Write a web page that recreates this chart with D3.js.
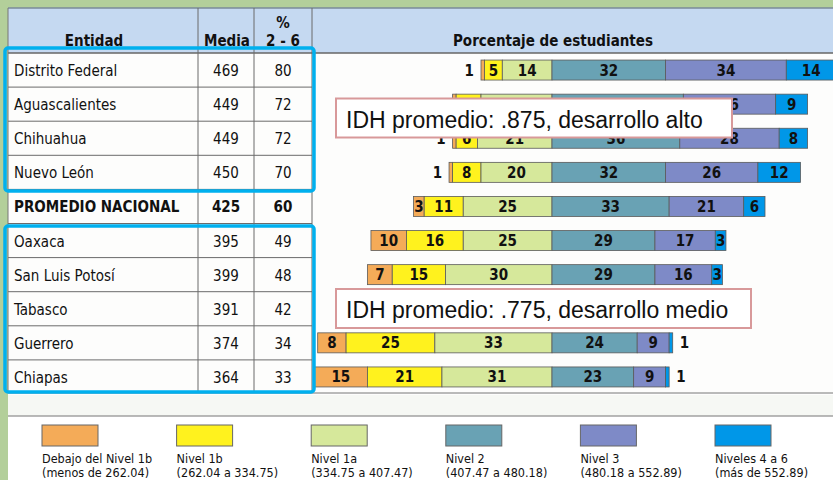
<!DOCTYPE html>
<html>
<head>
<meta charset="utf-8">
<script src="https://cdn.jsdelivr.net/npm/d3@7"></script>
<style>
  body { margin: 0; padding: 0; background: #b5cf9c; }
  svg { display: block; }
  text { font-family: "DejaVu Sans Condensed", "DejaVu Sans", Verdana, sans-serif; }
</style>
</head>
<body>
<svg id="chart" width="833" height="480"></svg>
<script>
// data
var entidades = ["Distrito Federal", "Aguascalientes", "Chihuahua", "Nuevo León", "PROMEDIO NACIONAL",
                 "Oaxaca", "San Luis Potosí", "Tabasco", "Guerrero", "Chiapas"];
var medias = [469, 449, 449, 450, 425, 395, 399, 391, 374, 364];
var pct26 = [80, 72, 72, 70, 60, 49, 48, 42, 34, 33];

var debajo1b = [1, 1, 1, 1, 3, 10, 7, 11, 8, 15];
var nivel1b  = [5, 7, 6, 8, 11, 16, 15, 19, 25, 21];
var nivel1a  = [14, 20, 21, 20, 25, 25, 30, 28, 33, 31];
var nivel2   = [32, 37, 36, 32, 33, 29, 29, 27, 24, 23];
var nivel3   = [34, 26, 28, 26, 21, 17, 16, 12, 9, 9];
var nivel46  = [14, 9, 8, 12, 6, 3, 3, 3, 1, 1];

var niveles = ["Debajo del Nivel 1b", "Nivel 1b", "Nivel 1a", "Nivel 2", "Nivel 3", "Niveles 4 a 6"];
var rangos = ["(menos de 262.04)", "(262.04 a 334.75)", "(334.75 a 407.47)",
              "(407.47 a 480.18)", "(480.18 a 552.89)", "(más de 552.89)"];
var colores = ["#f4ab58", "#fff21e", "#d6e89b", "#69a2b4", "#7e8ac7", "#0097e8"];

var series = [debajo1b, nivel1b, nivel1a, nivel2, nivel3, nivel46];

var svg = d3.select("#chart");

// background panels
svg.append("rect").attr("x", 0).attr("y", 0).attr("width", 833).attr("height", 480).attr("fill", "#b3cf9a");
svg.append("rect").attr("x", 8).attr("y", 8).attr("width", 825).attr("height", 472).attr("fill", "#fdfdfc");
svg.append("rect").attr("x", 8).attr("y", 8).attr("width", 825).attr("height", 45)
    .attr("fill", "#c5d9f1");
svg.append("line").attr("x1", 8).attr("x2", 833).attr("y1", 8).attr("y2", 8).attr("stroke", "#7a8a99").attr("stroke-width", 1.5);
svg.append("line").attr("x1", 8).attr("x2", 833).attr("y1", 53).attr("y2", 53).attr("stroke", "#666").attr("stroke-width", 1.5);
svg.append("rect").attr("x", 8).attr("y", 395).attr("width", 825).attr("height", 21).attr("fill", "#f6f8f4");
svg.append("line").attr("x1", 8).attr("x2", 833).attr("y1", 416).attr("y2", 416).attr("stroke", "#777").attr("stroke-width", 1);
svg.append("rect").attr("x", 8).attr("y", 417).attr("width", 825).attr("height", 63).attr("fill", "#ffffff");

// scales
var row = d3.scaleBand().domain(entidades).range([53, 394]).padding(0);
var x = d3.scaleLinear().domain([-70, 80]).range([303.5, 836]);
var barH = 20;

// table grid
var cols = [198, 254, 312];
svg.selectAll(".vline").data(cols).enter().append("line")
    .attr("x1", function (d) { return d; }).attr("x2", function (d) { return d; })
    .attr("y1", 8).attr("y2", 393)
    .attr("stroke", "#6b6b6b").attr("stroke-width", 1);
svg.selectAll(".hline").data(entidades.slice(1)).enter().append("line")
    .attr("x1", 8).attr("x2", 312)
    .attr("y1", function (d) { return row(d); }).attr("y2", function (d) { return row(d); })
    .attr("stroke", "#6b6b6b").attr("stroke-width", 1);
svg.append("line").attr("x1", 8).attr("x2", 833).attr("y1", 393).attr("y2", 393).attr("stroke", "#777").attr("stroke-width", 1);
svg.append("line").attr("x1", 8).attr("x2", 8).attr("y1", 8).attr("y2", 393).attr("stroke", "#777").attr("stroke-width", 1);

// header
var head = svg.append("g").attr("font-weight", "bold").attr("font-size", 15).attr("fill", "#111");
head.append("text").attr("x", 94).attr("y", 46).attr("text-anchor", "middle").text("Entidad");
head.append("text").attr("x", 227).attr("y", 46).attr("text-anchor", "middle").text("Media");
head.append("text").attr("x", 283).attr("y", 28).attr("text-anchor", "middle").text("%");
head.append("text").attr("x", 283).attr("y", 46).attr("text-anchor", "middle").text("2 - 6");
head.append("text").attr("x", 553).attr("y", 46).attr("text-anchor", "middle").text("Porcentaje de estudiantes");

// table rows
var rows = svg.selectAll(".fila").data(entidades).enter().append("g")
    .attr("transform", function (d) { return "translate(0," + (row(d) + row.bandwidth() / 2 + 6) + ")"; })
    .attr("font-size", 15).attr("fill", "#111")
    .attr("font-weight", function (d) { return d === "PROMEDIO NACIONAL" ? "bold" : "normal"; });
rows.append("text").attr("x", 14).text(function (d) { return d; });
rows.append("text").attr("x", 226).attr("text-anchor", "middle").text(function (d, i) { return medias[i]; });
rows.append("text").attr("x", 283).attr("text-anchor", "middle").text(function (d, i) { return pct26[i]; });

// stacked bars, aligned on the 1a / 2 boundary
entidades.forEach(function (name, i) {
    var start = -(debajo1b[i] + nivel1b[i] + nivel1a[i]);
    var y0 = row(name) + (row.bandwidth() - barH) / 2;
    var g = svg.append("g").attr("class", "barra");
    var acc = start;
    series.forEach(function (s, k) {
        var v = s[i];
        var a = acc, b = acc + v;
        acc = b;
        g.append("rect")
            .attr("x", x(a)).attr("y", y0)
            .attr("width", x(b) - x(a)).attr("height", barH)
            .attr("fill", colores[k])
            .attr("stroke", "#5a5a5a").attr("stroke-width", 0.8);
        var lbl = g.append("text")
            .attr("y", y0 + barH / 2 + 5.5)
            .attr("font-size", 15).attr("font-weight", "bold").attr("fill", "#111")
            .text(v);
        if (v <= 1) {
            if (k === 0) lbl.attr("x", x(a) - 7).attr("text-anchor", "end");
            else lbl.attr("x", x(b) + 7).attr("text-anchor", "start");
        } else {
            lbl.attr("x", (x(a) + x(b)) / 2).attr("text-anchor", "middle");
        }
    });
});

// blue highlight boxes
svg.append("rect").attr("x", 5).attr("y", 48).attr("width", 309).attr("height", 143).attr("rx", 3)
    .attr("fill", "none").attr("stroke", "#00b0ee").attr("stroke-width", 3.5);
svg.append("rect").attr("x", 5).attr("y", 226).attr("width", 309).attr("height", 166).attr("rx", 3)
    .attr("fill", "none").attr("stroke", "#00b0ee").attr("stroke-width", 3.5);

// IDH callouts
var notas = [
    { x: 336, y: 98.5, w: 396, texto: "IDH promedio: .875, desarrollo alto" },
    { x: 336, y: 289, w: 415, texto: "IDH promedio: .775, desarrollo medio" }
];
notas.forEach(function (n) {
    svg.append("rect").attr("x", n.x).attr("y", n.y).attr("width", n.w).attr("height", 39)
        .attr("fill", "#ffffff").attr("stroke", "#d8999a").attr("stroke-width", 2);
    svg.append("text").attr("x", n.x + 10).attr("y", n.y + 29)
        .style("font-family", "'Liberation Sans', Arial, sans-serif")
        .attr("font-size", 23).attr("fill", "#111").text(n.texto);
});

// legend
var leg = svg.selectAll(".leg").data(niveles).enter().append("g")
    .attr("transform", function (d, i) { return "translate(" + (42 + i * 134.6) + ",0)"; });
leg.append("rect").attr("x", 0).attr("y", 425).attr("width", 56).attr("height", 21)
    .attr("fill", function (d, i) { return colores[i]; })
    .attr("stroke", "#666").attr("stroke-width", 1);
leg.append("text").attr("x", 0).attr("y", 463).attr("font-size", 12.5).attr("fill", "#111")
    .text(function (d) { return d; });
leg.append("text").attr("x", 0).attr("y", 477).attr("font-size", 12.5).attr("fill", "#111")
    .text(function (d, i) { return rangos[i]; });
</script>
</body>
</html>
